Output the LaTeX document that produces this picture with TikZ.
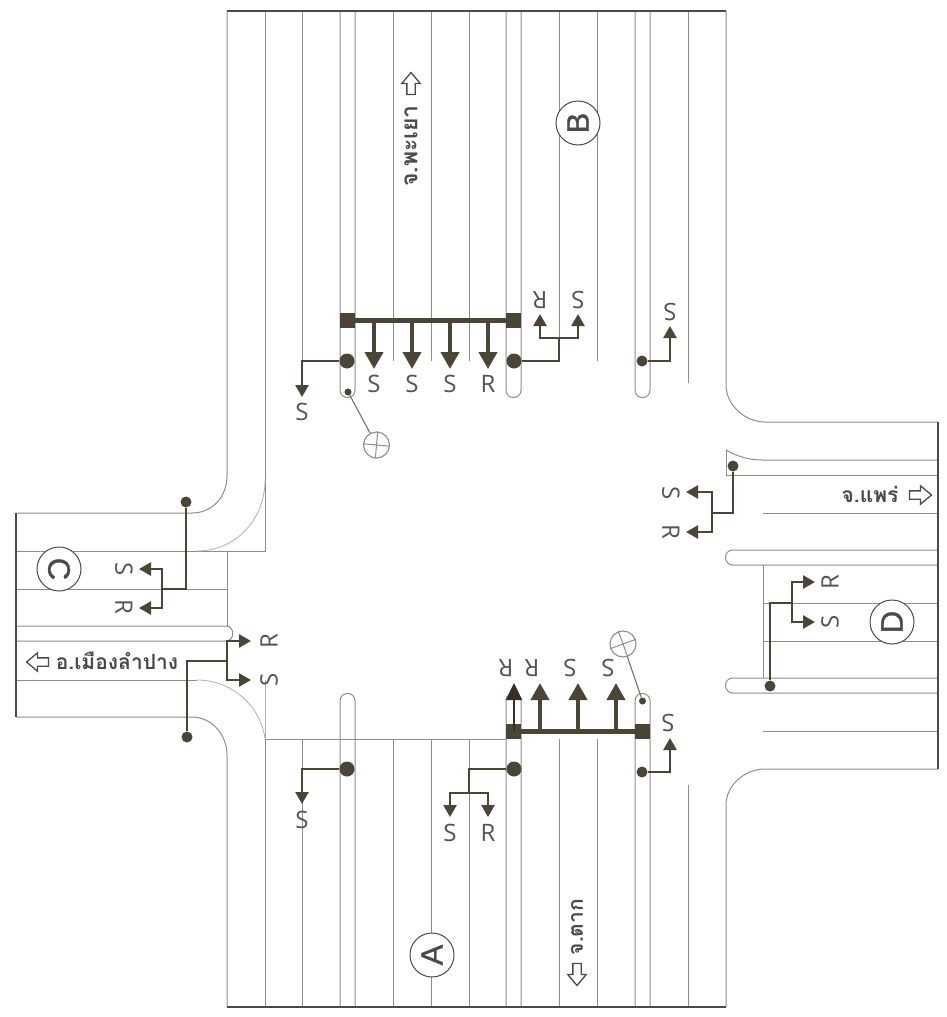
\documentclass[tikz,border=0pt]{standalone}
\usepackage{fontspec}
\setmainfont{Open Sans}
\newfontfamily\thaifont[Script=Thai]{Loma}
\newfontfamily\circfont[FakeBold=1.0]{Liberation Sans}
\usetikzlibrary{arrows.meta,shapes.arrows}
\definecolor{roadline}{HTML}{8E8E88}
\definecolor{edgeline}{HTML}{4A4A46}
\definecolor{sig}{HTML}{4B4538}
\definecolor{lab}{HTML}{55554F}
\tikzset{
  road/.style={draw=roadline,line width=1pt},
  softroad/.style={draw=roadline!70,line width=0.8pt},
  edgeroad/.style={draw=edgeline,line width=1.8pt},
  wire/.style={draw=sig,line width=2.5pt},
  thinwire/.style={draw=sig,line width=2.5pt,-{Triangle[width=13pt,length=12pt]},sig},
  stemarrow/.style={draw=sig,line width=4pt,-{Triangle[width=18pt,length=17pt]},sig},
  bigdot/.style={circle,fill=sig,draw=none,minimum size=15pt,inner sep=0pt},
  smalldot/.style={circle,fill=sig,draw=none,minimum size=11pt,inner sep=0pt},
  tinydot/.style={circle,fill=sig,draw=none,minimum size=7pt,inner sep=0pt},
  barend/.style={rectangle,fill=sig,draw=none,minimum size=15pt,inner sep=0pt},
  bar/.style={draw=sig,line width=5.5pt},
  lab/.style={text=lab,font=\fontsize{24}{24}\selectfont,inner sep=0pt},
  circ/.style={circle,draw=edgeline,fill=white,line width=1pt,minimum size=44pt,inner sep=0pt,text=edgeline,font=\circfont\fontsize{31}{31}\selectfont},
  thai/.style={text=edgeline,inner sep=0pt,font=\thaifont\bfseries\fontsize{21}{21}\selectfont},
  hollow/.style={single arrow,draw=edgeline,fill=white,line width=1.3pt,minimum height=22pt,inner xsep=0pt,inner ysep=3.5pt,single arrow head extend=5pt,single arrow tip angle=80},
  xsign/.style={circle,draw=roadline,fill=white,line width=1.1pt,minimum size=26pt,inner sep=0pt},
  leader/.style={draw=roadline!80!black,line width=1.1pt}
}
\begin{document}
\begin{tikzpicture}[x=1pt,y=-1pt]
\useasboundingbox (0,0) rectangle (946,1017);
\fill[white] (0,0) rectangle (946,1017);
% north arm
\draw[road] (227,11) -- (227,476) .. controls (227,497) and (212,513) .. (192,513) -- (16,513);
\draw[road] (265,11) -- (265,551) -- (16,551);
\draw[softroad] (265,480) .. controls (265,520) and (235,551) .. (197,551);
\foreach \x in {393,431,469,559,597} \draw[road] (\x,11) -- (\x,361);
\draw[road] (302,11) -- (302,361);
\draw[road] (688,11) -- (688,383);
\draw[road] (726,11) -- (726,385) .. controls (726,405) and (745,422) .. (765,422) -- (938,422);
\foreach \x in {340,506,635}
  \draw[road] (\x,11) -- (\x,390) .. controls (\x,400) and (\x+15,400) .. (\x+15,390) -- (\x+15,11);
% south arm
\draw[road] (227,1007) -- (227,755) .. controls (227,735) and (212,717) .. (192,717) -- (16,717);
\draw[road] (16,680) -- (197,680);
\draw[softroad] (197,680) .. controls (235,680) and (262,710) .. (265,739);
\draw[softroad] (265,680) -- (265,739);
\draw[road] (265,739) -- (265,1007);
\draw[road] (265,739) -- (506,739);
\foreach \x in {302,393,431,469,559,597} \draw[road] (\x,739) -- (\x,1007);
\draw[road] (688,785) -- (688,1007);
\draw[road] (726,1007) -- (726,805) .. controls (726,785) and (745,769) .. (765,769) -- (938,769);
\foreach \x in {340,506,635}
  \draw[road] (\x,1007) -- (\x,701) .. controls (\x,691) and (\x+15,691) .. (\x+15,701) -- (\x+15,1007);
% west arm
\draw[road] (16,589) -- (227,589);
\draw[road] (227,551) -- (227,626);
\draw[road] (16,626) -- (226,626) .. controls (235,626) and (235,641) .. (226,641) -- (16,641);
% east arm
\draw[road] (726,450) .. controls (738,457) and (750,460) .. (762,460) -- (938,460);
\draw[road] (726,450) -- (726,475) -- (938,475);
\foreach \y in {513,603,641,731} \draw[road] (763,\y) -- (938,\y);
\draw[road] (763,565) -- (763,678);
\foreach \y in {550,678}
  \draw[road] (938,\y) -- (733,\y) .. controls (723,\y) and (723,\y+15) .. (733,\y+15) -- (938,\y+15);
% outer edges
\draw[edgeroad] (227,11) -- (726,11);
\draw[edgeroad] (227,1007) -- (726,1007);
\draw[edgeroad] (16,513) -- (16,717);
\draw[edgeroad] (938,422) -- (938,769);
% ---- north signals
\node[barend] (nbl) at (347.5,320.5) {};
\node[barend] (nbr) at (513.5,320.5) {};
\draw[bar] (nbl) -- (nbr);
\foreach \n/\x/\t in {a/374/S,b/412/S,c/450/S,d/488/R}{
  \coordinate (ns\n) at (\x,320);
  \coordinate (nt\n) at (\x,369);
  \draw[stemarrow] (ns\n) -- (nt\n);
  \node[lab] (nl\n) at (\x,384) {\t};
}
\node[bigdot] (nd1) at (347,361) {};
\coordinate (nt1) at (302,397);
\draw[thinwire] (nd1) -| (nt1);
\node[lab] (nl1) at (302,412) {S};
\node[bigdot] (nd2) at (514,361) {};
\coordinate (nj2) at (559,338);
\coordinate (nt2) at (540,314);
\coordinate (nt3) at (578,314);
\draw[wire] (nd2) -| (nj2);
\draw[thinwire] (nj2) -| (nt2);
\draw[thinwire] (nj2) -| (nt3);
\node[lab,rotate=180] (nl2) at (540,300) {R};
\node[lab,rotate=180] (nl3) at (578,300) {S};
\node[smalldot] (nd3) at (642,361) {};
\coordinate (nt4) at (670,326);
\draw[thinwire] (nd3) -| (nt4);
\node[lab,rotate=180] (nl4) at (670,312) {S};
\node[tinydot] (nd4) at (348,392) {};
\node[xsign] (nx) at (376.5,445) {};
\draw[leader] (nd4) -- (nx);
\draw[draw=roadline,line width=1pt] (nx.85) -- (nx.-95) (nx.175) -- (nx.-5);
% ---- south signals
\node[barend] (sbl) at (513.5,731.5) {};
\node[barend] (sbr) at (642.5,731.5) {};
\draw[bar] (sbl) -- (sbr);
\foreach \n/\x/\t/\lx in {a/540/R/532,b/578/S/570,c/616/S/608}{
  \coordinate (ss\n) at (\x,731);
  \coordinate (st\n) at (\x,683);
  \draw[stemarrow] (ss\n) -- (st\n);
  \node[lab,rotate=180] (sl\n) at (\lx,668) {\t};
}
\coordinate (ssd) at (514,731);
\coordinate (std) at (514,683);
\draw[draw=sig!70!black,line width=2.2pt,-{Triangle[width=16pt,length=17pt]},sig!70!black] (ssd) -- (std);
\node[lab,rotate=180] (sld) at (506,668) {R};
\node[bigdot] (sd1) at (347,769) {};
\coordinate (st1) at (302,804);
\draw[thinwire] (sd1) -| (st1);
\node[lab] (sl1) at (302,820) {S};
\node[bigdot] (sd2) at (514,769) {};
\coordinate (sj2) at (469,793);
\coordinate (st2) at (450,817);
\coordinate (st3) at (488,817);
\draw[wire] (sd2) -| (sj2);
\draw[thinwire] (sj2) -| (st2);
\draw[thinwire] (sj2) -| (st3);
\node[lab] (sl2) at (450,833) {S};
\node[lab] (sl3) at (488,833) {R};
\node[smalldot] (sd3) at (642,772) {};
\coordinate (st4) at (670,738);
\draw[thinwire] (sd3) -| (st4);
\node[lab,rotate=180] (sl4) at (668,723) {S};
\node[tinydot] (sd4) at (642.5,701) {};
\node[xsign] (sx) at (623,644) {};
\draw[leader] (sd4) -- (sx);
\draw[draw=roadline,line width=1pt] (sx.110) -- (sx.-70) (sx.20) -- (sx.-160);
% ---- west signals
\node[smalldot] (wd1) at (186,502) {};
\coordinate (wj1) at (162,589);
\coordinate (wt1) at (139,569);
\coordinate (wt2) at (139,608);
\draw[wire,line width=2.8pt] (wd1) |- (wj1);
\draw[thinwire] (wj1) |- (wt1);
\draw[thinwire] (wj1) |- (wt2);
\node[lab,rotate=-90] (wl1) at (124,569) {S};
\node[lab,rotate=-90] (wl2) at (124,607) {R};
\node[smalldot] (wd2) at (187,737) {};
\coordinate (wj2) at (227,661);
\coordinate (wt3) at (251,641);
\coordinate (wt4) at (251,680);
\draw[wire,line width=2.8pt] (wd2) |- (wj2);
\draw[thinwire] (wj2) |- (wt3);
\draw[thinwire] (wj2) |- (wt4);
\node[lab,rotate=90] (wl3) at (269,641) {R};
\node[lab,rotate=90] (wl4) at (269,680) {S};
% ---- east signals
\node[smalldot] (ed1) at (733,466) {};
\coordinate (ej1) at (712,513);
\coordinate (et1) at (686,492);
\coordinate (et2) at (686,532);
\draw[wire,line width=2.8pt] (ed1) |- (ej1);
\draw[thinwire] (ej1) |- (et1);
\draw[thinwire] (ej1) |- (et2);
\node[lab,rotate=-90] (el1) at (671,493) {S};
\node[lab,rotate=-90] (el2) at (671,532) {R};
\node[smalldot] (ed2) at (770,686) {};
\coordinate (ej2) at (792,603);
\coordinate (et3) at (815,582);
\coordinate (et4) at (815,622);
\draw[wire,line width=2.8pt] (ed2) |- (ej2);
\draw[thinwire] (ej2) |- (et3);
\draw[thinwire] (ej2) |- (et4);
\node[lab,rotate=90] (el3) at (830,582) {R};
\node[lab,rotate=90] (el4) at (830,622) {S};
% ---- arm letters
\node[circ,rotate=90] (A) at (432,955) {A};
\node[circ,rotate=90] (B) at (578,123) {B};
\node[circ,rotate=-90] (C) at (59,569) {C};
\node[circ,rotate=90] (D) at (892,622) {D};
% ---- place names
\node[thai,rotate=90,font=\thaifont\bfseries\fontsize{23}{23}\selectfont] (tB) at (411,146) {จ.พะเยา};
\node[hollow,rotate=90] (aB) at (411,86) {};
\node[thai,rotate=90] (tA) at (577,927) {จ.ตาก};
\node[hollow,rotate=-90] (aA) at (577,972) {};
\node[thai] (tD) at (870,494) {จ.แพร่};
\node[hollow] (aD) at (918,495) {};
\node[thai] (tC) at (117,661) {อ.เมืองลำปาง};
\node[hollow,rotate=180] (aC) at (40,662) {};
\end{tikzpicture}
\end{document}
